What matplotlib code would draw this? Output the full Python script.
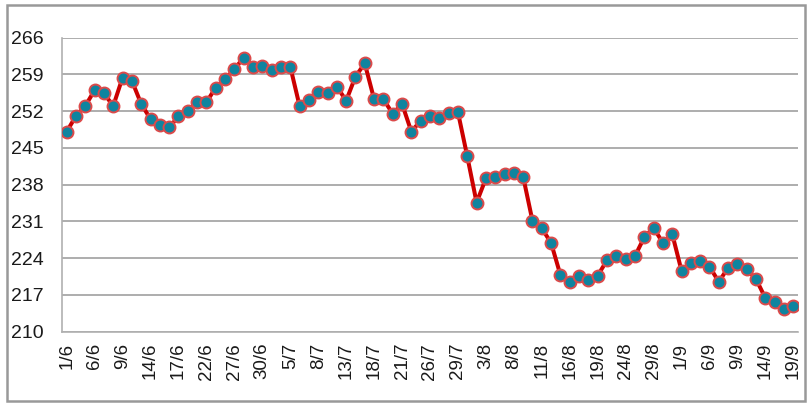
import matplotlib
matplotlib.use("Agg")
import matplotlib.pyplot as plt
from matplotlib.patches import Rectangle

# ---- data ----
values = [
    248.1, 251.1, 253.0, 256.0, 255.4, 253.0, 258.4, 257.8, 253.4, 250.5,
    249.4, 248.9, 251.0, 252.1, 253.8, 253.7, 256.5, 258.1, 260.0, 262.2,
    260.5, 260.7, 259.8, 260.5, 260.5, 253.0, 254.1, 255.6, 255.5, 256.7,
    254.0, 258.6, 261.1, 254.3, 254.3, 251.5, 253.4, 248.1, 250.2, 251.1,
    250.8, 251.6, 251.8, 243.4, 234.6, 239.2, 239.4, 240.1, 240.2, 239.5,
    231.1, 229.7, 226.9, 220.8, 219.4, 220.6, 219.9, 220.7, 223.6, 224.4,
    223.8, 224.4, 228.0, 229.8, 226.9, 228.6, 221.6, 223.0, 223.5, 222.4,
    219.5, 222.2, 222.9, 221.9, 220.0, 216.4, 215.7, 214.3, 214.9,
]
tick_labels = [
    "1/6", "6/6", "9/6", "14/6", "17/6", "22/6", "27/6", "30/6", "5/7",
    "8/7", "13/7", "18/7", "21/7", "26/7", "29/7", "3/8", "8/8", "11/8",
    "16/8", "19/8", "24/8", "29/8", "1/9", "6/9", "9/9", "14/9", "19/9",
]
y_ticks = [210, 217, 224, 231, 238, 245, 252, 259, 266]
label_step = 3

plt.rcParams['font.family'] = ['Liberation Sans', 'DejaVu Sans']

fig = plt.figure(figsize=(8.12, 4.09), dpi=100)
fig.patch.set_facecolor('white')
ax = fig.add_axes([62/812, 1-331.7/409, (798-62)/812, (331.7-37.7)/409])

x = list(range(len(values)))
ax.plot(x, values, color='#cc0000', linewidth=2.9, zorder=3,
        marker='o', markersize=8.6, markerfacecolor='#0f849f',
        markeredgecolor='#dc4a4a', markeredgewidth=1.4)

ax.set_xlim(-0.5, len(values) - 0.5)
ax.set_ylim(y_ticks[0], y_ticks[-1])
ax.set_yticks(y_ticks)
ax.set_yticklabels([str(v) for v in y_ticks])
ax.set_xticks(x[::label_step])
ax.set_xticklabels(tick_labels, rotation=90)

ax.tick_params(axis='y', length=0, pad=13, labelsize=14, labelcolor='#1a1a1a')
ax.tick_params(axis='x', length=0, pad=8, labelsize=13.5, labelcolor='#1a1a1a')

ax.yaxis.grid(True, color='#a0a0a0', linewidth=1.2)
ax.set_axisbelow(True)
for s in ['top', 'right']:
    ax.spines[s].set_visible(False)
for s in ['left', 'bottom']:
    ax.spines[s].set_color('#b0b0b0')
    ax.spines[s].set_linewidth(1.2)

fig.patches.append(Rectangle((7/812, 1-400.7/409), (805-7)/812, (400.7-5)/409,
                             transform=fig.transFigure, fill=False,
                             edgecolor='#999999', linewidth=1.8))

fig.savefig('out.png', dpi=100)
